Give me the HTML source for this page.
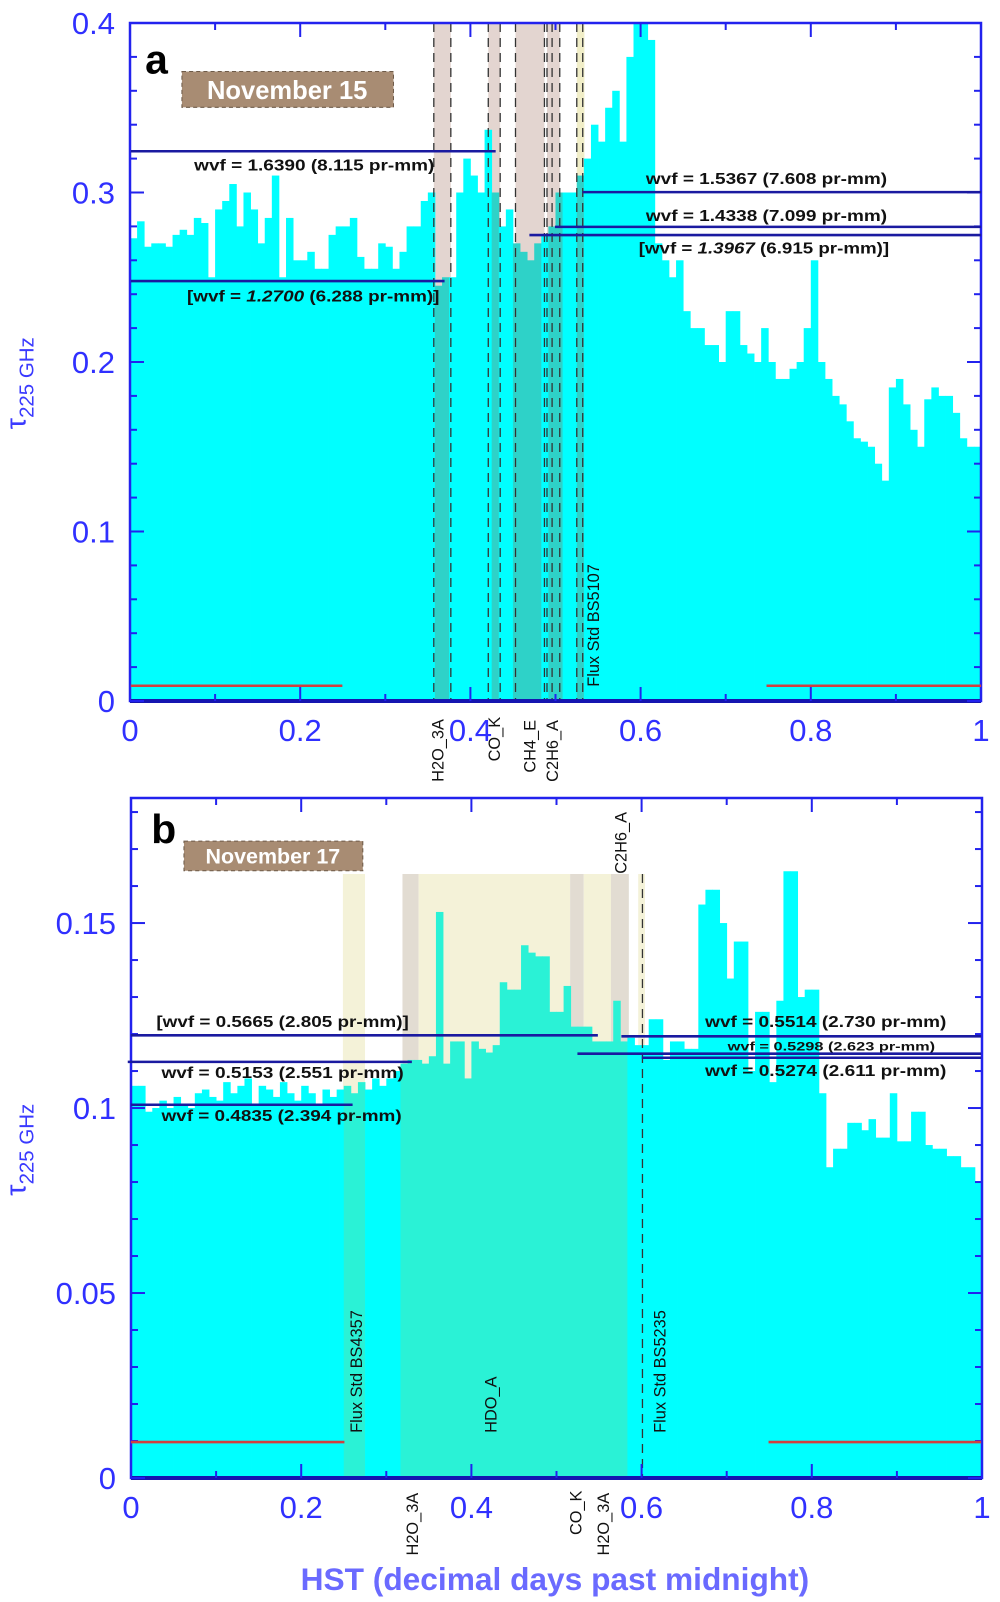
<!DOCTYPE html>
<html><head><meta charset="utf-8"><style>
html,body{margin:0;padding:0;background:#fff;}
svg{display:block;font-family:"Liberation Sans",sans-serif;}
</style></head><body>
<svg id="chart" width="1000" height="1602" viewBox="0 0 1000 1602" xmlns="http://www.w3.org/2000/svg">
<g id="layer"></g>
<g id="ann" transform="scale(1.022)">
  <text x="142" y="72" font-size="40" font-weight="bold" fill="#000">a</text>
  <rect x="178" y="70" width="207" height="35" fill="#a88c73" stroke="#6d5a48" stroke-dasharray="4,3"/>
  <text x="281" y="97" font-size="25" font-weight="bold" fill="#fff" text-anchor="middle">November 15</text>

  <g font-size="15" font-weight="bold" fill="#111">
    <text x="190" y="167" textLength="235" lengthAdjust="spacingAndGlyphs">wvf = 1.6390 (8.115 pr-mm)</text>
    <text x="183" y="295" textLength="247" lengthAdjust="spacingAndGlyphs">[wvf = <tspan font-style="italic">1.2700</tspan> (6.288 pr-mm)]</text>
    <text x="632" y="180" textLength="236" lengthAdjust="spacingAndGlyphs">wvf = 1.5367 (7.608 pr-mm)</text>
    <text x="632" y="216" textLength="236" lengthAdjust="spacingAndGlyphs">wvf = 1.4338 (7.099 pr-mm)</text>
    <text x="625" y="248" textLength="245" lengthAdjust="spacingAndGlyphs">[wvf = <tspan font-style="italic">1.3967</tspan> (6.915 pr-mm)]</text>
  </g>
  <g stroke="#1a1aa0" stroke-width="2.5">
    <line x1="128" y1="148" x2="485" y2="148"/>
    <line x1="128" y1="275" x2="435" y2="275"/>
    <line x1="570" y1="188" x2="960" y2="188"/>
    <line x1="543" y1="222" x2="960" y2="222"/>
    <line x1="518" y1="230" x2="960" y2="230"/>
  </g>
  <g stroke="#d04040" stroke-width="2.5">
    <line x1="128" y1="671" x2="335" y2="671"/>
    <line x1="750" y1="671" x2="960" y2="671"/>
  </g>
  <g font-size="16" fill="#111">
    <text transform="translate(434,765) rotate(-90)">H2O_3A</text>
    <text transform="translate(489,745) rotate(-90)">CO_K</text>
    <text transform="translate(524,756) rotate(-90)">CH4_E</text>
    <text transform="translate(546,765) rotate(-90)">C2H6_A</text>
    <text transform="translate(586,672) rotate(-90)">Flux Std BS5107</text>
  </g>

  <text x="148" y="825" font-size="40" font-weight="bold" fill="#000">b</text>
  <rect x="180" y="823" width="175" height="29" fill="#a88c73" stroke="#6d5a48" stroke-dasharray="4,3"/>
  <text x="267" y="845" font-size="21" font-weight="bold" fill="#fff" text-anchor="middle">November 17</text>

  <g font-size="15" font-weight="bold" fill="#111">
    <text x="153" y="1005" textLength="247" lengthAdjust="spacingAndGlyphs">[wvf = 0.5665 (2.805 pr-mm)]</text>
    <text x="158" y="1055" textLength="237" lengthAdjust="spacingAndGlyphs">wvf = 0.5153 (2.551 pr-mm)</text>
    <text x="158" y="1097" textLength="235" lengthAdjust="spacingAndGlyphs">wvf = 0.4835 (2.394 pr-mm)</text>
    <text x="690" y="1005" textLength="236" lengthAdjust="spacingAndGlyphs">wvf = 0.5514 (2.730 pr-mm)</text>
    <text x="712" y="1028" font-size="12" textLength="203" lengthAdjust="spacingAndGlyphs">wvf = 0.5298 (2.623 pr-mm)</text>
    <text x="690" y="1053" textLength="236" lengthAdjust="spacingAndGlyphs">wvf = 0.5274 (2.611 pr-mm)</text>
  </g>
  <g stroke="#1a1aa0" stroke-width="2.5">
    <line x1="128" y1="1013" x2="585" y2="1013"/>
    <line x1="125" y1="1039" x2="403" y2="1039"/>
    <line x1="128" y1="1081" x2="345" y2="1081"/>
    <line x1="608" y1="1014" x2="960" y2="1014"/>
    <line x1="565" y1="1031" x2="960" y2="1031"/>
    <line x1="628" y1="1035" x2="960" y2="1035"/>
  </g>
  <g stroke="#d04040" stroke-width="2.5">
    <line x1="128" y1="1411" x2="337" y2="1411"/>
    <line x1="752" y1="1411" x2="960" y2="1411"/>
  </g>
  <g font-size="16" fill="#111">
    <text transform="translate(354,1402) rotate(-90)">Flux Std BS4357</text>
    <text transform="translate(486,1402) rotate(-90)">HDO_A</text>
    <text transform="translate(651,1402) rotate(-90)">Flux Std BS5235</text>
    <text transform="translate(613,855) rotate(-90)">C2H6_A</text>
    <text transform="translate(409,1522) rotate(-90)">H2O_3A</text>
    <text transform="translate(569,1502) rotate(-90)">CO_K</text>
    <text transform="translate(596,1522) rotate(-90)">H2O_3A</text>
  </g>

  <text transform="translate(25,420) rotate(-90)" font-size="28" fill="#3a3aff">τ<tspan font-size="20" dy="8">225 GHz</tspan></text>
  <text transform="translate(25,1170) rotate(-90)" font-size="28" fill="#3a3aff">τ<tspan font-size="20" dy="8">225 GHz</tspan></text>
  <text x="543" y="1556" font-size="31" font-weight="bold" fill="#6a6aff" text-anchor="middle">HST (decimal days past midnight)</text>
</g>
</svg>
<script>
const binsA = [.273,.283,.268,.27,.27,.268,.275,.278,.275,.285,
 .282,.25,.29,.295,.305,.28,.3,.29,.27,.285,
 .31,.25,.285,.26,.26,.265,.255,.255,.275,.28,
 .28,.285,.262,.255,.255,.27,.268,.255,.265,.28,
 .28,.295,.3,.245,.25,.25,.3,.32,.31,.3,
 .337,.3,.28,.29,.27,.265,.26,.27,.275,.28,
 .3,.3,.3,.31,.32,.34,.33,.35,
 .36,.33,.38,.4,.4,.39,.27,.26,.25,.26,
 .23,.22,.22,.21,.21,.2,.23,.23,.21,.205,
 .2,.22,.2,.19,.19,.196,.2,.22,.26,.2,
 .19,.18,.175,.165,.155,.153,.15,.14,.13,.185,
 .19,.175,.16,.15,.178,.185,.18,.18,.17,.155,.15,.15];
const binsB = [.106,.106,.099,.1,.102,.1,.103,.101,.1,.104,
 .105,.103,.102,.107,.104,.106,.108,.101,.106,.105,
 .103,.107,.104,.102,.106,.104,.101,.105,.103,.105,
 .106,.104,.107,.105,.108,.106,.108,.11,.112,.113,
 .113,.112,.114,.153,.112,.118,.118,.108,.118,.116,
 .115,.117,.134,.132,.132,.144,.142,.141,.141,.126,
 .126,.133,.122,.122,.122,.118,.118,.118,.129,.118,
 .119,.117,.117,.124,.124,.113,.118,.118,.116,.116,
 .155,.159,.159,.15,.135,.145,.145,.11,.126,.126,
 .107,.129,.164,.164,.13,.132,.132,.104,.084,.089,
 .089,.096,.096,.094,.097,.092,.092,.104,.091,.091,
 .099,.099,.09,.089,.089,.087,.087,.084,.084,.08];
const shadeStartA = [0.357,0.421,0.453,0.490,0.525];
const shadeEndA   = [0.377,0.435,0.487,0.505,0.534];
const shadeKindA  = ["gray","gray","gray","gray","yellow"];
const shadeStartB = [0.249,0.319,0.338,0.516,0.532,0.564,0.596];
const shadeEndB   = [0.275,0.338,0.516,0.532,0.564,0.585,0.604];
const shadeKindB  = ["yellow","gray","yellow","gray","yellow","gray","yellow"];
const dashA = [0.357,0.377,0.421,0.435,0.453,0.487,0.490,0.496,0.505,0.525,0.532];
const dashB = [0.601];
const xTicks = [0,0.2,0.4,0.6,0.8,1];
const xTickLabels = ["0","0.2","0.4","0.6","0.8","1"];
const yTicksA = [0,0.1,0.2,0.3,0.4];
const yTickLabelsA = ["0","0.1","0.2","0.3","0.4"];
const yTicksB = [0,0.05,0.1,0.15];
const yTickLabelsB = ["0","0.05","0.1","0.15"];

const NS="http://www.w3.org/2000/svg";
const layer=document.getElementById('layer');
function mk(tag,attrs,parent){const e=document.createElementNS(NS,tag);for(const k in attrs)e.setAttribute(k,attrs[k]);(parent||layer).appendChild(e);return e;}

const panels=[
 {id:'a',x0:130,x1:981,yTop:23,y0:701,yMax:0.4,bins:binsA,ss:shadeStartA,se:shadeEndA,sk:shadeKindA,dash:dashA,yt:yTicksA,ytl:yTickLabelsA,minor:0.02,shTop:23,
  cols:{gray:'#e3d5d0',yellow:'#f1eec8'},teal:'#2ed2c8'},
 {id:'b',x0:131,x1:982,yTop:798,y0:1478,yMax:0.1838,bins:binsB,ss:shadeStartB,se:shadeEndB,sk:shadeKindB,dash:dashB,yt:yTicksB,ytl:yTickLabelsB,minor:0.01,shTop:874,
  cols:{gray:'#e2dcd2',yellow:'#f4f2d8'},teal:'#2af2d6'}
];
panels.forEach(p=>{
  const X=v=>p.x0+(p.x1-p.x0)*v;
  const Y=v=>p.y0-(p.y0-p.yTop)*v/p.yMax;
  const g=mk('g',{});
  
  
  p.ss.forEach((s,i)=>{
    const r=mk('rect',{x:X(s),y:p.shTop,width:X(p.se[i])-X(s),height:p.y0-p.shTop,fill:p.cols[p.sk[i]]},g);
    
    
  });
  const n=p.bins.length, w=1/n;
  p.bins.forEach((v,i)=>{
    const c=(i+0.5)*w;
    let inside=false;
    p.ss.forEach((s,k)=>{if(c>=s&&c<=p.se[k])inside=true;});
    const r=mk('rect',{x:X(i*w),y:Y(v),width:X((i+1)*w)-X(i*w)+0.4,height:p.y0-Y(v),fill:inside?p.teal:'#00ffff'},g);
    
    
  });
  p.dash.forEach((d,i)=>{
    const l=mk('line',{x1:X(d),x2:X(d),y1:p.shTop,y2:p.y0,stroke:'#333','stroke-width':1.3,'stroke-dasharray':'9,6'},g);
    
    
  });
  const f=mk('rect',{x:p.x0,y:p.yTop,width:p.x1-p.x0,height:p.y0-p.yTop,fill:'none',stroke:'#2222ee','stroke-width':2.5},g);
  
  
  const bl=mk('line',{x1:p.x0,x2:p.x1,y1:p.y0,y2:p.y0,stroke:'#1515b0','stroke-width':4},g);
  
  
  for(let v=0;v<=p.yMax+1e-9;v+=p.minor){
    const major=p.yt.some(t=>Math.abs(t-v)<1e-6);
    const L=major?14:7;
    const t1=mk('line',{x1:p.x0,x2:p.x0+L,y1:Y(v),y2:Y(v),stroke:'#2222ee','stroke-width':2},g);
    
    
    const t2=mk('line',{x1:p.x1,x2:p.x1-L,y1:Y(v),y2:Y(v),stroke:'#2222ee','stroke-width':2},g);
    
    
  }
  p.yt.forEach((t,i)=>{
    const tx=mk('text',{x:p.x0-15,y:Y(t)+11,'font-size':31,fill:'#3030ff','text-anchor':'end'},g);
    tx.textContent=p.ytl[i];
    
    
  });
  for(let k=0;k<=10;k++){
    const v=k/10, L=(k%2===0)?14:7;
    const a=mk('line',{x1:X(v),x2:X(v),y1:p.y0,y2:p.y0-L,stroke:'#2222ee','stroke-width':2},g);
    
    
    const b=mk('line',{x1:X(v),x2:X(v),y1:p.yTop,y2:p.yTop+L,stroke:'#2222ee','stroke-width':2},g);
    
    
  }
  xTicks.forEach((t,i)=>{
    const tx=mk('text',{x:X(t),y:p.y0+40,'font-size':31,fill:'#3030ff','text-anchor':'middle'},g);
    tx.textContent=xTickLabels[i];
    
    
  });
});
</script>
</body></html>
